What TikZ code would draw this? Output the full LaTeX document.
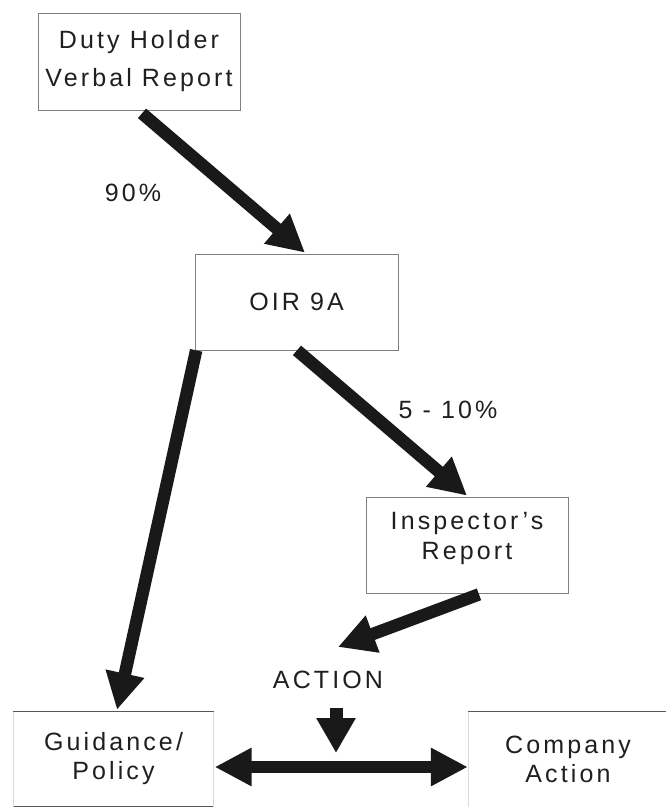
\documentclass[tikz,border=0pt]{standalone}
\usepackage{fontspec}
\setmainfont{Liberation Sans}[LetterSpace=12.5]
\usetikzlibrary{arrows.meta}
\begin{document}
\begin{tikzpicture}[x=1pt,y=-1pt,
  txt/.style={text=black!88, align=center, inner sep=0pt},
  boxed/.style={txt, draw=black!50, line width=0.7pt},
  fat/.style={line width=12.5pt, black!90, -{Triangle[length=37pt,width=37pt]}},
  fatboth/.style={line width=12pt, black!90, {Triangle[length=37pt,width=36pt]}-{Triangle[length=37pt,width=36pt]}},
  faint/.style={draw=black!15, line width=0.6pt},
  edge/.style={draw=black!65, line width=0.8pt}]
\useasboundingbox (0,0) rectangle (666,807);
\fill[white] (0,0) rectangle (666,807);

\node[boxed, minimum width=202pt, minimum height=97pt,
      font=\fontsize{25}{38}\selectfont] (duty) at (139,61.5) {Duty Holder\\Verbal Report};
\node[boxed, minimum width=203pt, minimum height=96pt,
      font=\fontsize{25}{29}\selectfont] (oir) at (296.5,302) {OIR 9A};
\node[boxed, minimum width=202pt, minimum height=96pt, text depth=17.8pt,
      font=\fontsize{25}{30}\selectfont] (insp) at (467,545) {Inspector's\\Report};
\node[txt, minimum width=200pt, minimum height=94pt,
      font=\fontsize{25}{29}\selectfont] (guid) at (113.5,759) {Guidance/\\Policy};
\node[txt, minimum width=200pt, minimum height=94pt,
      font=\fontsize{25}{29}\selectfont] (comp) at (568,759) {Company\\Action};
\node[txt, font=\fontsize{25}{29}\selectfont] (action) at (328,680) {ACTION};
\node[txt, font=\fontsize{25}{29}\selectfont] (p90) at (133,193) {90\%};
\node[txt, font=\fontsize{25}{29}\selectfont] (p510) at (448,410) {5 - 10\%};

% partial frames of the lower boxes
\draw[edge] (guid.north west) -- (guid.north east);
\draw[edge] (guid.south west) -- (guid.south east);
\draw[faint] (guid.north west) -- ([yshift=-20pt]guid.south west);
\draw[faint] (guid.north east) -- ([yshift=-20pt]guid.south east);
\draw[edge] (comp.north west) -- (comp.north east);
\draw[faint] (comp.north west) -- ([yshift=-20pt]comp.south west);

% arrows
\draw[fat] ([shift={(3,3)}]duty.south) -- ([shift={(8.5,-1)}]oir.north);
\draw[fat] ([shift={(1.5,0)}]oir.south west) -- ([shift={(3.5,-2)}]guid.north);
\draw[fat] ([shift={(0.5,0)}]oir.south) -- ([shift={(0,-1)}]insp.north);
\draw[fat] ([shift={(12,1)}]insp.south) -- ([shift={(10,-33)}]action.center);
\draw[line width=13pt, black!90, -{Triangle[length=35pt,width=37pt]}]
  ([shift={(8,28)}]action.center) -- ([shift={(8,73)}]action.center);
\draw[fatboth] ([shift={(1,8)}]guid.east) -- ([shift={(0,8)}]comp.west);
\end{tikzpicture}
\end{document}
